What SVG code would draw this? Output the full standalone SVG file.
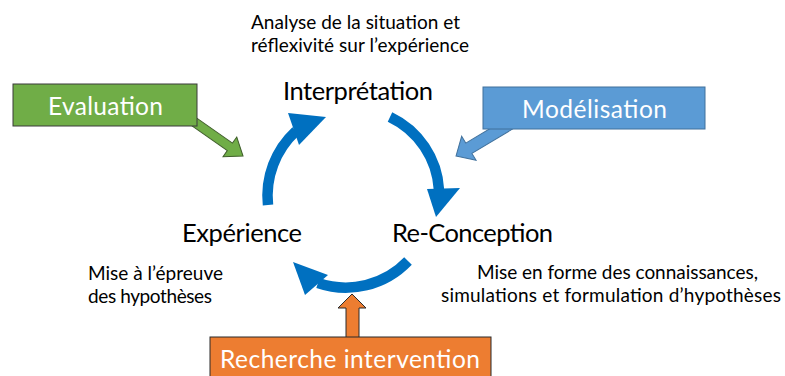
<svg xmlns="http://www.w3.org/2000/svg" width="785" height="376" viewBox="0 0 785 376">
<style>
text{font-family:Lato,"Open Sans","Liberation Sans",sans-serif;fill:#000}
.sm{font-size:19px}
.lg{font-size:25.5px}
.bx{font-size:24.5px;fill:#fff}
.arc{fill:none;stroke:#0070C0;stroke-width:10.5}
.head{fill:#0070C0}
</style>
<rect width="785" height="376" fill="#fff"/>
<g id="connectors">
<path class="arc" d="M268,205 A 88 88 0 0 1 296,131"/>
<polygon class="head" points="326,117 288,113 299,145"/>
<path class="arc" d="M390,117 A 86 86 0 0 1 439,190"/>
<polygon class="head" points="436,217 427,189 460,188"/>
<path class="arc" d="M408,261 A 86 86 0 0 1 318,283"/>
<polygon class="head" points="293,262 305,295 328,275"/>
<polygon transform="translate(243,156) rotate(35)" points="0,0 -16,-12 -16,-4.5 -70,-4.5 -70,4.5 -16,4.5 -16,12" fill="#70AD47" stroke="#3F5E2A" stroke-width="1"/>
<polygon transform="translate(456,156) rotate(149)" points="0,0 -15,-14 -15,-6 -75,-6 -75,6 -15,6 -15,14" fill="#5B9BD5" stroke="#41719C" stroke-width="1"/>
<polygon points="352,294 366,308 359,308 359,338 346,338 346,308 338,308" fill="#ED7D31" stroke="#2B2B2B" stroke-width="1"/>
</g>
<g id="evaluation">
<rect x="13" y="84" width="184" height="42" fill="#70AD47" stroke="#3B3B3B" stroke-width="1"/>
<text class="bx" x="48" y="115" textLength="115">Evaluation</text>
</g>
<g id="modelisation">
<rect x="483" y="87" width="222" height="42" fill="#5B9BD5" stroke="#41719C" stroke-width="1"/>
<text class="bx" x="522" y="118" textLength="145">Modélisation</text>
</g>
<g id="recherche">
<rect x="210" y="337" width="281" height="45" fill="#ED7D31" stroke="#2B2B2B" stroke-width="1"/>
<text class="bx" x="220" y="368" textLength="260">Recherche intervention</text>
</g>
<g id="interpretation">
<text class="sm" x="251" y="29" textLength="209">Analyse de la situation et</text>
<text class="sm" x="251" y="52" textLength="218">réflexivité sur l’expérience</text>
<text class="lg" x="283" y="100" textLength="150">Interprétation</text>
</g>
<g id="experience">
<text class="lg" x="182" y="242" textLength="120">Expérience</text>
<text class="sm" x="88" y="280" textLength="135">Mise à l’épreuve</text>
<text class="sm" x="88" y="303" textLength="124">des hypothèses</text>
</g>
<g id="reconception">
<text class="lg" x="392" y="242" textLength="161">Re-Conception</text>
<text class="sm" x="477" y="279" textLength="281">Mise en forme des connaissances,</text>
<text class="sm" x="441" y="302" textLength="340">simulations et formulation d’hypothèses</text>
</g>
</svg>
